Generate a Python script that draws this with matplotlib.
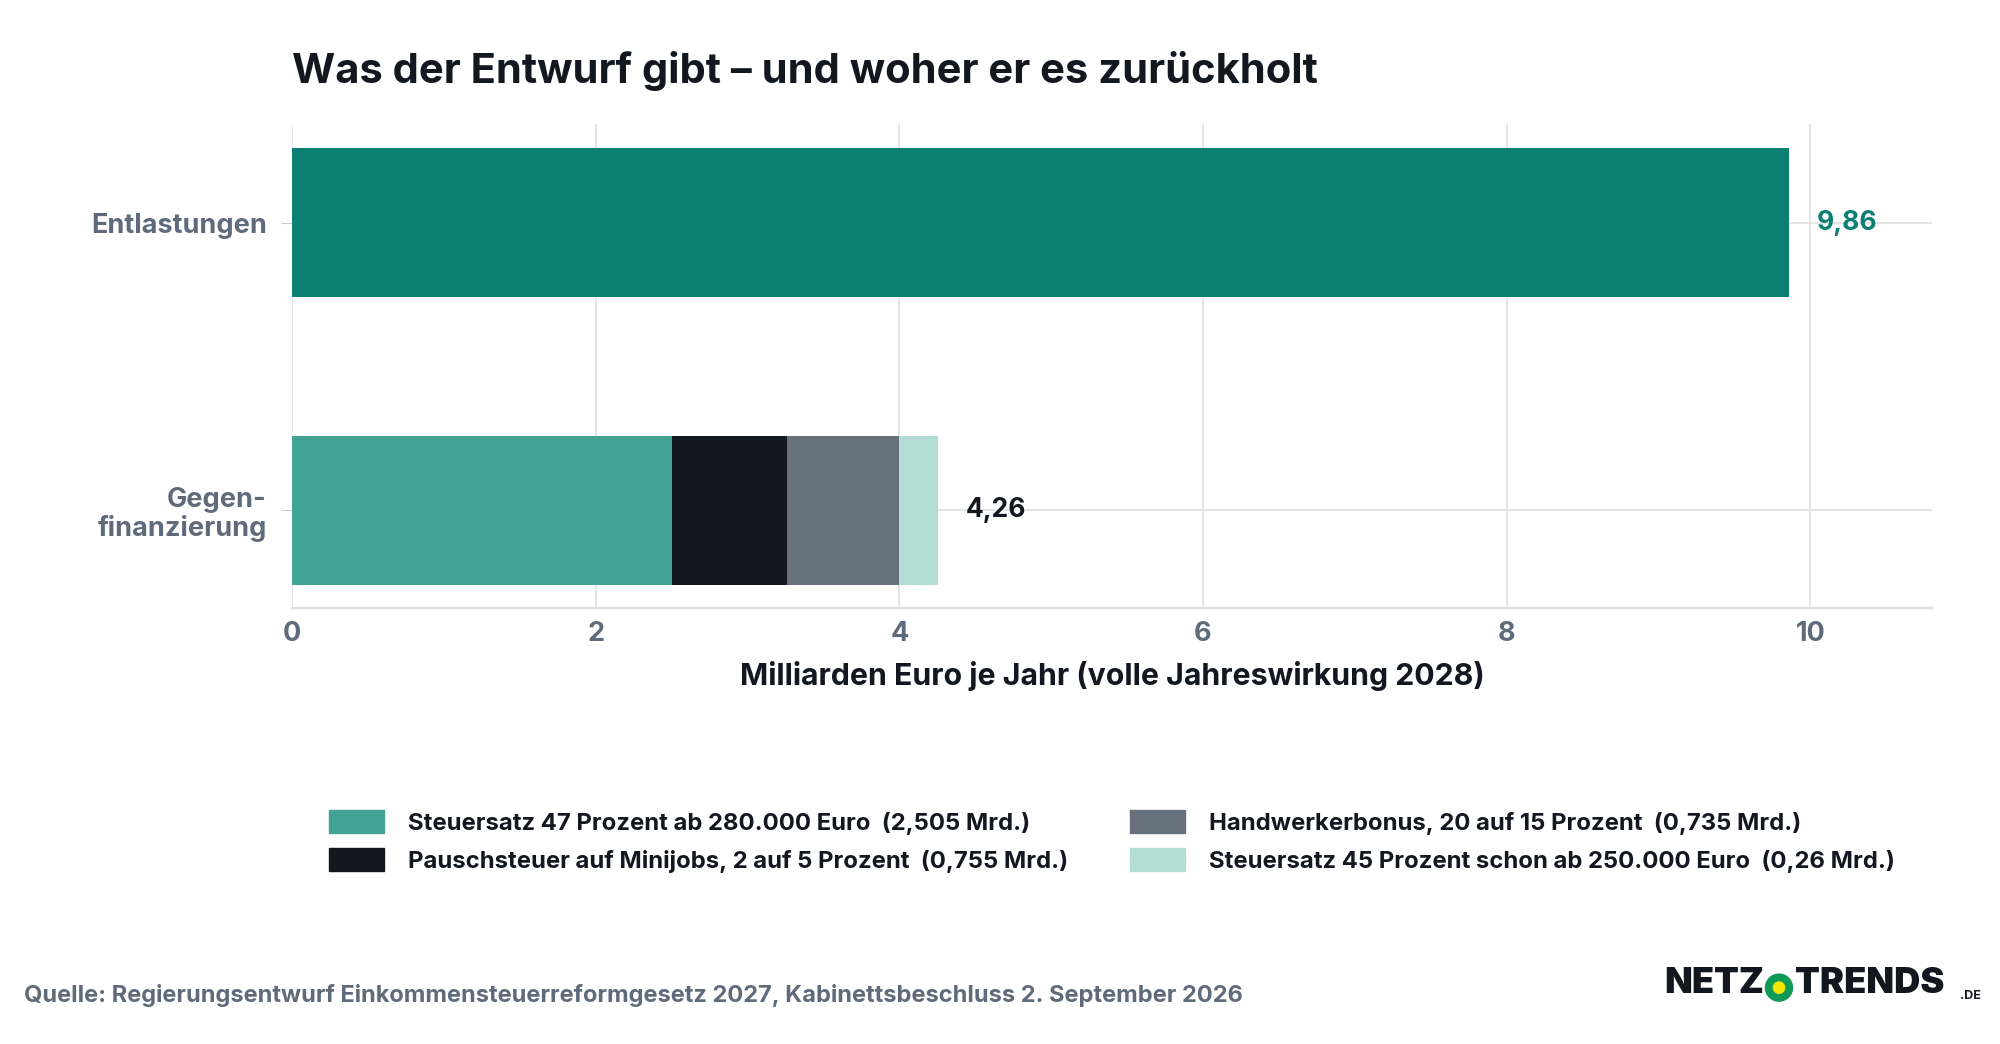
import matplotlib
matplotlib.use("Agg")
from matplotlib import pyplot as plt
from matplotlib.patches import Patch, Ellipse

plt.rcParams["font.family"] = ["Inter", "DejaVu Sans"]

categories = ["Entlastungen", "Gegen-\nfinanzierung"]
relief_total = 9.86
parts = [2.505, 0.755, 0.735, 0.26]
part_labels = [
    "Steuersatz 47 Prozent ab 280.000 Euro  (2,505 Mrd.)",
    "Pauschsteuer auf Minijobs, 2 auf 5 Prozent  (0,755 Mrd.)",
    "Handwerkerbonus, 20 auf 15 Prozent  (0,735 Mrd.)",
    "Steuersatz 45 Prozent schon ab 250.000 Euro  (0,26 Mrd.)",
]
part_colors = ["#42a394", "#13171f", "#67717e", "#b1ddd5"]
xticks = [0, 2, 4, 6, 8, 10]

TEAL = "#0b7f72"
GRAY = "#5f6b7a"
DARK = "#13171f"


def fmt(v):
    return f"{round(v + 1e-9, 2):.2f}".replace(".", ",")


fig = plt.figure(figsize=(20, 10.44), dpi=100)
ax = fig.add_axes([0.146, 0.418, 0.824 * 0.995, 0.463])

ax.barh(1, relief_total, height=0.52, color=TEAL)
left = 0
for v, c in zip(parts, part_colors):
    ax.barh(0, v, left=left, height=0.52, color=c)
    left += v
ax.text(relief_total + 0.18, 1, fmt(relief_total),
        va="center", ha="left", color=TEAL, fontsize=19, fontweight="bold")
ax.text(left + 0.18, 0, fmt(left),
        va="center", ha="left", color=DARK, fontsize=19, fontweight="bold")

ax.set_xlim(0, 10.8)
ax.set_ylim(-0.338, 1.342)
ax.set_yticks([1, 0])
ax.set_yticklabels(categories, fontsize=19.5, fontweight="bold", color=GRAY,
                   linespacing=1.1)
ax.set_xticks(xticks)
ax.set_xticklabels([str(t) for t in xticks], fontsize=19.5, fontweight="bold", color=GRAY)
ax.tick_params(axis="y", length=8, color="#cccccc", pad=10)
ax.tick_params(axis="x", length=0, pad=10)
ax.grid(axis="both", color="#e3e3e3", linewidth=1.3)
ax.set_axisbelow(True)
for s in ["top", "right", "left"]:
    ax.spines[s].set_visible(False)
ax.spines["bottom"].set_color("#dddddd")
ax.spines["bottom"].set_linewidth(1.5)
ax.set_xlabel("Milliarden Euro je Jahr (volle Jahreswirkung 2028)", fontsize=21.8,
              fontweight="bold", color=DARK, labelpad=10)

fig.text(0.146, 0.932, "Was der Entwurf gibt – und woher er es zurückholt",
         fontsize=30, fontweight="bold", color=DARK, va="center")

handles = [Patch(color=c) for c in part_colors]
fig.legend(handles, part_labels, loc="center", bbox_to_anchor=(0.556, 0.194),
           ncol=2, frameon=False, handlelength=2.3, handleheight=1.1,
           handletextpad=1.0, columnspacing=2.6, labelspacing=0.55,
           prop={"weight": "bold", "size": 17.2})
for t in fig.legends[0].get_texts():
    t.set_color(DARK)

fig.text(0.012, 0.046,
         "Quelle: Regierungsentwurf Einkommensteuerreformgesetz 2027, Kabinettsbeschluss 2. September 2026",
         fontsize=17, fontweight="bold", color=GRAY, va="center")

fig.text(0.832, 0.058, "NETZ", fontsize=26, fontweight="black", color=DARK, va="center")
fig.text(0.8975, 0.058, "TRENDS", fontsize=26, fontweight="black", color=DARK, va="center")
fig.text(0.980, 0.046, ".DE", fontsize=9, fontweight="bold", color=DARK, va="center")
w = 0.0135
fig.patches.append(Ellipse((0.8895, 0.054), w, w * 2000 / 1044, transform=fig.transFigure,
                           color="#109a58", zorder=5))
fig.patches.append(Ellipse((0.8895, 0.054), w * 0.42, w * 0.42 * 2000 / 1044,
                           transform=fig.transFigure, color="#f2e600", zorder=6))

fig.savefig("out.png", dpi=100)
